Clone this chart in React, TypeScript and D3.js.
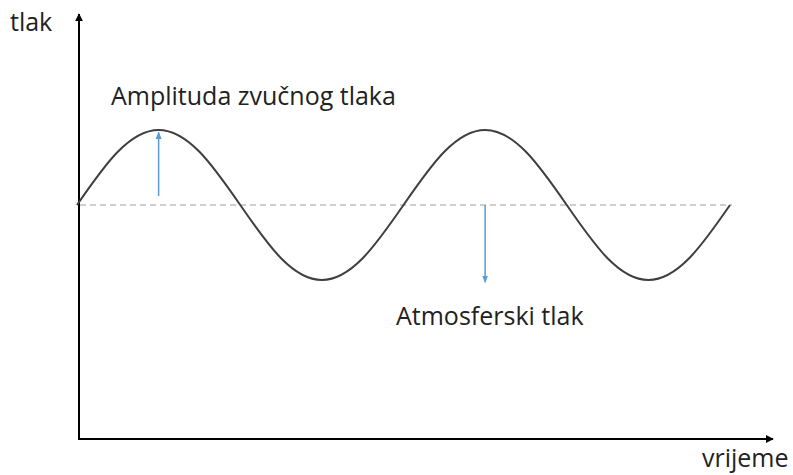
import React from "react";
import * as d3 from "d3";

// time in quarter-periods (0..8 = two full cycles), pressure relative to atmospheric (-1..1)
const waveTime = [0, 0.5, 1, 1.5, 2, 2.5, 3, 3.5, 4, 4.5, 5, 5.5, 6, 6.5, 7, 7.5, 8];
const wavePressure = [0, 0.71, 1, 0.71, 0, -0.71, -1, -0.71, 0, 0.71, 1, 0.71, 0, -0.71, -1, -0.71, 0];

const axisLabels = { y: "tlak", x: "vrijeme" };
const annotations = ["Amplituda zvučnog tlaka", "Atmosferski tlak"];
// arrows: [time, fromPressure, toPressure]
const arrowTimes = [1, 5];
const arrowFrom = [0.12, 0];
const arrowTo = [0.97, -1.03];

const W = 793;
const H = 475;
const FONT = "'Open Sans', 'DejaVu Sans', sans-serif";

export default function App() {
  const x = d3.scaleLinear().domain([0, 8]).range([77, 730]);
  const y = d3.scaleLinear().domain([-1, 1]).range([280, 130]);

  const pts = waveTime.map((t, i) => [x(t), y(wavePressure[i])] as [number, number]);
  const line = d3.line().curve(d3.curveNatural)(pts) || "";

  const axisX = 79;
  const axisY = 439;

  return (
    <svg
      width={W}
      height={H}
      style={{ position: "absolute", left: 0, top: 0, background: "#fff" }}
    >
      <defs>
        <marker id="ax" viewBox="0 0 10 10" refX="9" refY="5" markerWidth="4" markerHeight="4" orient="auto">
          <path d="M0,0 L10,5 L0,10 Z" fill="#000" />
        </marker>
        <marker id="bl" viewBox="0 0 10 10" refX="9" refY="5" markerWidth="5" markerHeight="5" orient="auto">
          <path d="M0,1 L10,5 L0,9 Z" fill="#5B9BD5" />
        </marker>
      </defs>

      {/* axes */}
      <line x1={axisX} y1={axisY + 1} x2={axisX} y2={14} stroke="#000" strokeWidth={2} markerEnd="url(#ax)" />
      <line x1={axisX - 1} y1={axisY} x2={773} y2={axisY} stroke="#000" strokeWidth={2} markerEnd="url(#ax)" />

      {/* atmospheric pressure dashed line */}
      <line
        x1={x(0) + 3}
        y1={y(0)}
        x2={x(8) + 2}
        y2={y(0)}
        stroke="#BFBFBF"
        strokeWidth={1.5}
        strokeDasharray="6 4"
      />

      {/* wave */}
      <path d={line} fill="none" stroke="#3F3F3F" strokeWidth={2} />

      {/* arrows */}
      {arrowTimes.map((t, i) => (
        <line
          key={i}
          x1={x(t)}
          y1={y(arrowFrom[i])}
          x2={x(t)}
          y2={y(arrowTo[i])}
          stroke="#5B9BD5"
          strokeWidth={1.5}
          markerEnd="url(#bl)"
        />
      ))}

      {/* labels */}
      <text x={10} y={31} fontFamily={FONT} fontSize={25} fill="#222">
        {axisLabels.y}
      </text>
      <text x={702} y={467} fontFamily={FONT} fontSize={25} fill="#222">
        {axisLabels.x}
      </text>
      <text x={111} y={105} fontFamily={FONT} fontSize={25} fill="#222">
        {annotations[0]}
      </text>
      <text x={396} y={325} fontFamily={FONT} fontSize={25} fill="#222">
        {annotations[1]}
      </text>
    </svg>
  );
}
